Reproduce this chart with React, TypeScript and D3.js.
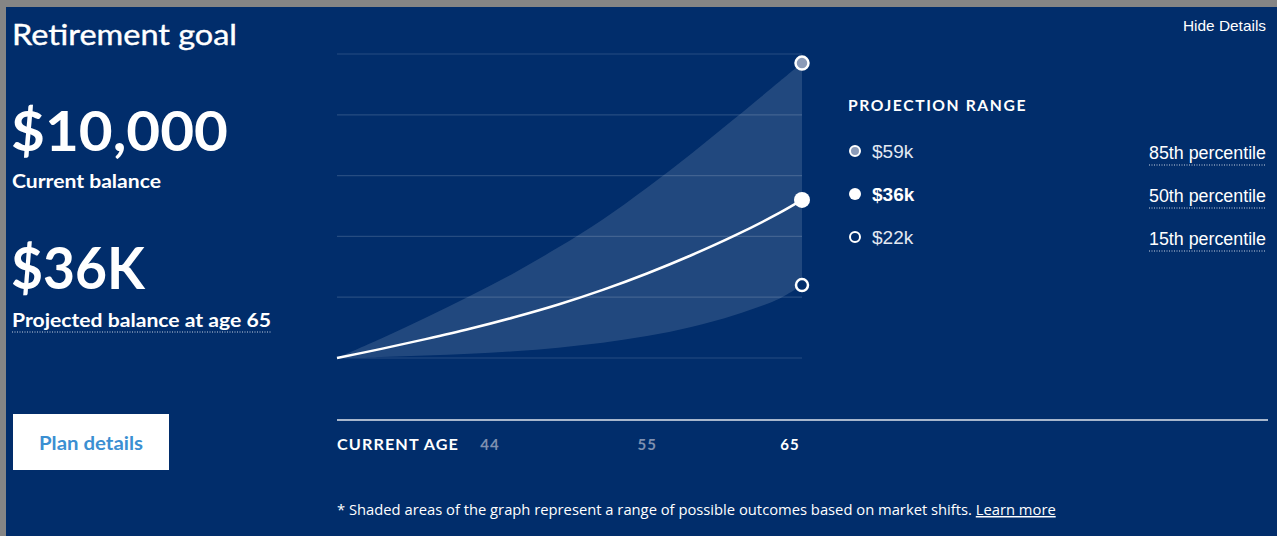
import React from "react";
import * as d3 from "d3";

// ---- data (values in $k) ----
const ages = [44, 46, 48, 50, 52, 54, 56, 58, 60, 62, 64, 65];
const p50 = [10.0, 11.5, 13.1, 14.8, 16.7, 18.8, 21.2, 23.9, 26.9, 30.2, 33.9, 36.0];
const p85 = [10.0, 13.2, 16.6, 20.2, 24.0, 28.2, 32.8, 38.0, 43.6, 49.5, 55.5, 58.5];
const p15 = [10.0, 10.15, 10.4, 10.7, 11.1, 11.7, 12.5, 13.6, 15.1, 17.1, 19.8, 22.0];
const gridValues = [10, 20, 30, 40, 50, 60];
const ageTicks = [44, 55, 65];
const legendLabels = ["$59k", "$36k", "$22k"];
const percentileLabels = ["85th percentile", "50th percentile", "15th percentile"];

const W = 1277;
const H = 536;
const NAVY = "#012d6b";
const BOGLE = "Lato, 'Open Sans', sans-serif";
const ARIAL = "'Liberation Sans', Arial, sans-serif";

export default function App() {
  const x = d3.scaleLinear().domain([44, 65]).range([337, 802]);
  const y = d3.scaleLinear().domain([10, 60]).range([358, 54]);
  const xLabel = d3.scaleLinear().domain([44, 65]).range([490, 790]);
  const legendY = d3.scalePoint<number>().domain([0, 1, 2]).range([151, 237]);

  const idx = ages.map((_, i) => i);
  const curve = d3.curveCatmullRom.alpha(0.5);
  const area = d3
    .area<number>()
    .x((i) => x(ages[i]))
    .y0((i) => y(p15[i]))
    .y1((i) => y(p85[i]))
    .curve(curve);
  const line = d3
    .line<number>()
    .x((i) => x(ages[i]))
    .y((i) => y(p50[i]))
    .curve(curve);

  const last = ages.length - 1;
  const endX = x(ages[last]);

  return (
    <div style={{ position: "absolute", left: 0, top: 0, width: W, height: H }}>
      <svg width={W} height={H} style={{ display: "block" }}>
        <rect x={0} y={0} width={W} height={H} fill="#858585" />
        <rect x={6} y={7} width={W - 6} height={H - 7} fill={NAVY} />

        {/* left panel */}
        <text x={12} y={45} fill="#fff" fontFamily={BOGLE} fontSize={29} stroke="#fff" strokeWidth={0.4} textLength={225} lengthAdjust="spacingAndGlyphs">
          Retirement goal
        </text>
        <text x={11} y={151} fill="#fff" fontFamily={BOGLE} fontWeight={700} fontSize={56} textLength={217} lengthAdjust="spacingAndGlyphs">
          $10,000
        </text>
        <text x={12} y={188} fill="#fff" fontFamily={BOGLE} fontWeight={700} fontSize={18} textLength={149} lengthAdjust="spacingAndGlyphs">
          Current balance
        </text>
        <text x={11} y={289} fill="#fff" fontFamily={BOGLE} fontWeight={700} fontSize={58} textLength={134} lengthAdjust="spacingAndGlyphs">
          $36K
        </text>
        <text x={12} y={327} fill="#fff" fontFamily={BOGLE} fontWeight={700} fontSize={19} textLength={259} lengthAdjust="spacingAndGlyphs">
          Projected balance at age 65
        </text>
        <line x1={12} x2={271} y1={332} y2={332} stroke="#c8d2e2" strokeWidth={1} strokeDasharray="1,1.5" />

        <rect x={13} y={414} width={156} height={56} fill="#fff" />
        <text x={91} y={450} textAnchor="middle" fill="#3b8fd2" fontFamily={BOGLE} fontWeight={700} fontSize={19} textLength={104} lengthAdjust="spacingAndGlyphs">
          Plan details
        </text>

        <text x={1266} y={31} textAnchor="end" fill="#fff" fontFamily={ARIAL} fontSize={14.5} textLength={83} lengthAdjust="spacingAndGlyphs">
          Hide Details
        </text>

        {/* grid */}
        {gridValues.map((v) => (
          <line key={v} x1={x(44)} x2={endX} y1={y(v)} y2={y(v)} stroke="#fff" strokeOpacity={0.15} strokeWidth={1.2} />
        ))}

        {/* band + median */}
        <path d={area(idx) || ""} fill="#fff" fillOpacity={0.13} />
        <path d={line(idx) || ""} fill="none" stroke="#fff" strokeWidth={2.5} />

        <circle cx={endX} cy={y(p85[last])} r={6.5} fill="#8b9bb8" stroke="#fff" strokeWidth={2.5} />
        <circle cx={endX} cy={y(p50[last])} r={8} fill="#fff" />
        <circle cx={endX} cy={y(p15[last])} r={6} fill={NAVY} stroke="#fff" strokeWidth={2.5} />

        {/* baseline axis */}
        <line x1={337} x2={1268} y1={420} y2={420} stroke="#a7b6cc" strokeWidth={2} />
        <text x={337} y={450} fill="#fff" fontFamily={BOGLE} fontWeight={700} fontSize={15} letterSpacing={1} textLength={122} lengthAdjust="spacingAndGlyphs">
          CURRENT AGE
        </text>
        {ageTicks.map((a, i) => (
          <text
            key={a}
            x={xLabel(a)}
            y={450}
            textAnchor="middle"
            fill={i === ageTicks.length - 1 ? "#fff" : "#7f90b0"}
            fontFamily={BOGLE}
            fontWeight={700}
            fontSize={15}
            letterSpacing={1}
          >
            {a}
          </text>
        ))}

        {/* legend */}
        <text x={848} y={111} fill="#fff" fontFamily={BOGLE} fontWeight={700} fontSize={15} letterSpacing={1.5} textLength={179} lengthAdjust="spacingAndGlyphs">
          PROJECTION RANGE
        </text>
        {legendLabels.map((lab, i) => {
          const cy = legendY(i) as number;
          return (
            <g key={lab}>
              {i === 0 && <circle cx={855} cy={cy} r={5} fill="#8b9bb8" stroke="#fff" strokeWidth={2} />}
              {i === 1 && <circle cx={855} cy={cy} r={6} fill="#fff" />}
              {i === 2 && <circle cx={855} cy={cy} r={5} fill={NAVY} stroke="#fff" strokeWidth={2} />}
              <text x={872} y={cy + 7} fill={i === 1 ? "#fff" : "#e4e9f2"} fontFamily={ARIAL} fontWeight={i === 1 ? 700 : 400} fontSize={19}>
                {lab}
              </text>
              <text x={1266} y={cy + 8} textAnchor="end" fill="#fff" fontFamily={ARIAL} fontSize={18} textLength={117} lengthAdjust="spacingAndGlyphs">
                {percentileLabels[i]}
              </text>
              <line x1={1149} x2={1266} y1={cy + 14} y2={cy + 14} stroke="#c8d2e2" strokeWidth={1} strokeDasharray="1,1.5" />
            </g>
          );
        })}

        {/* footnote */}
        <text x={337} y={515} fill="#fff" fontFamily="'Open Sans', sans-serif" fontSize={14.75}>
          <tspan>* Shaded areas of the graph represent a range of possible outcomes based on market shifts. </tspan>
          <tspan style={{ textDecoration: "underline" }}>Learn more</tspan>
        </text>
      </svg>
    </div>
  );
}
